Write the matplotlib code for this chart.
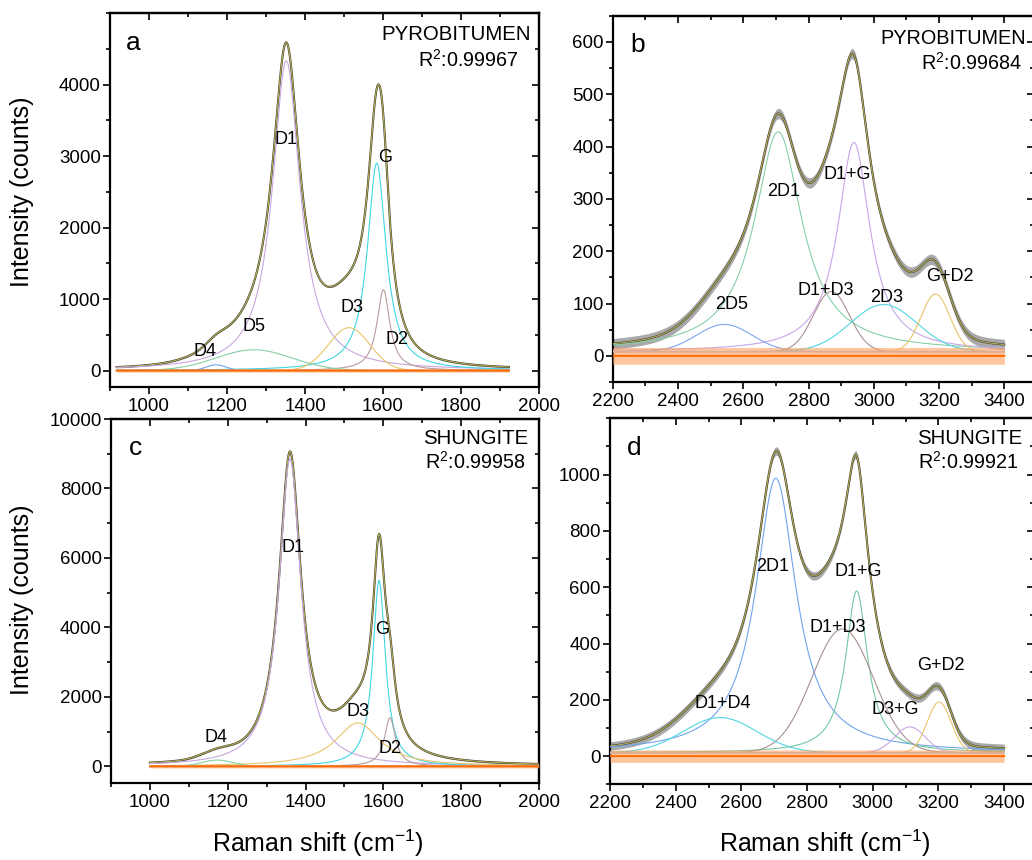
import numpy as np
import matplotlib
matplotlib.use('Agg')
import matplotlib.pyplot as plt
from matplotlib.ticker import MultipleLocator

plt.rcParams['font.family'] = ['Liberation Sans', 'DejaVu Sans']
plt.rcParams['mathtext.fontset'] = 'custom'
plt.rcParams['mathtext.rm'] = 'Liberation Sans'
plt.rcParams['mathtext.it'] = 'Liberation Sans'
plt.rcParams['mathtext.default'] = 'regular'

# ---------------- data ----------------
# Panel a: pyrobitumen, first order
a_span = [917, 1923]
a_names = ['D1', 'G', 'D2', 'D3', 'D4', 'D5']
a_center = [1352, 1584, 1601, 1513, 1172, 1269]
a_height = [4330, 2900, 1129, 600, 80, 290]
a_fwhm = [86, 58, 40, 125, 60, 230]
a_shape = ['L', 'L', 'L', 'G', 'G', 'G']
a_base = 0
a_noise = 12
a_resid = 22
a_r2 = '0.99967'

# Panel b: pyrobitumen, second order
b_span = [2200, 3400]
b_names = ['2D1', 'D1+G', '2D5', 'D1+D3', '2D3', 'G+D2']
b_center = [2707, 2939, 2542, 2870, 3030, 3189]
b_height = [420, 400, 52, 115, 90, 110]
b_fwhm = [178, 120, 200, 130, 240, 105]
b_shape = ['L', 'L', 'G', 'G', 'G', 'G']
b_base = 8
b_noise = 10
b_resid = 16
b_r2 = '0.99684'

# Panel c: shungite, first order
c_span = [1000, 2000]
c_names = ['D1', 'G', 'D2', 'D3', 'D4']
c_center = [1360, 1589, 1617, 1534, 1173]
c_height = [8850, 5350, 1397, 1250, 180]
c_fwhm = [68, 39, 34, 140, 94]
c_shape = ['L', 'L', 'L', 'L', 'G']
c_base = 0
c_noise = 25
c_resid = 45
c_r2 = '0.99958'

# Panel d: shungite, second order
d_span = [2200, 3400]
d_names = ['2D1', 'D1+G', 'D1+D3', 'D1+D4', 'D3+G', 'G+D2']
d_center = [2705, 2951, 2908, 2535, 3113, 3202]
d_height = [975, 575, 440, 125, 92, 180]
d_fwhm = [150, 81, 220, 264, 110, 86]
d_shape = ['L', 'L', 'G', 'G', 'G', 'G']
d_base = 12
d_noise = 15
d_resid = 22
d_r2 = '0.99921'

# label positions (data coordinates) for the peak names
a_lab_x = [1352, 1606, 1636, 1520, 1144, 1269]
a_lab_y = [3227, 2985, 429, 887, 266, 615]
b_lab_x = [2724, 2918, 2564, 2852, 3040, 3232]
b_lab_y = [315, 347, 99, 124, 111, 152]
c_lab_x = [1368, 1596, 1617, 1535, 1171]
c_lab_y = [6290, 3945, 511, 1587, 837]
d_lab_x = [2694, 2956, 2892, 2542, 3069, 3207]
d_lab_y = [672, 655, 458, 186, 165, 321]

# ---------------- styles ----------------
col_a = ['#c8a6e0', '#3fd8e2', '#b89a9a', '#e8c46a', '#6ea4ee', '#86cfa6']
col_b = ['#86cfa6', '#c8a6e8', '#7ea6ee', '#ab9090', '#4fd6e0', '#e8c46a']
col_c = ['#c8a6e0', '#3fd8e2', '#b89a9a', '#e8c46a', '#86cfa6']
col_d = ['#6ea4ee', '#74c9a0', '#a89090', '#4fd6e0', '#c8a6e8', '#e8c46a']

W, H = 1032, 860
fig = plt.figure(figsize=(W / 100, H / 100), dpi=100)


def ax_rect(l, t, r, b):
    return [l / W, 1 - b / H, (r - l) / W, (b - t) / H]


def peak(x, c, h, w, s):
    if s == 'L':
        return h / (1 + ((x - c) / (w / 2)) ** 2)
    return h * np.exp(-4 * np.log(2) * (x - c) ** 2 / w ** 2)


def draw_panel(ax, span, centers, heights, fwhms, shapes, base, noise, resid,
               colors, names, lx, ly):
    x = np.linspace(span[0], span[1], 1600)
    comps = [peak(x, c, h, w, s) for c, h, w, s in zip(centers, heights, fwhms, shapes)]
    total = base + np.sum(comps, axis=0)
    # measured spectrum (band shows its noise amplitude) and the fit
    ax.fill_between(x, total - noise, total + noise, color='#9a9a9a', lw=0, alpha=0.85, zorder=2)
    ax.plot(x, total, color='#3a3a3a', lw=1.5, zorder=3)
    ax.plot(x, total, color='#b4ae4e', lw=0.8, zorder=4)
    for comp, col in zip(comps, colors):
        ax.plot(x, base + comp, color=col, lw=0.8, zorder=5)
    ax.plot(x, np.full_like(x, base), color='#a8c4e8', lw=1.2, zorder=5)
    # residual (band shows its amplitude)
    ax.fill_between(x, -resid, resid, color='#ffa060', lw=0, alpha=0.6, zorder=6)
    ax.plot(x, np.zeros_like(x), color='#ff6a00', lw=1.4, zorder=7)
    for n, xx, yy in zip(names, lx, ly):
        ax.text(xx, yy, n, ha='center', va='center', fontsize=13, zorder=8)


def style(ax, xlim, ylim, xticks, xminor, yticks, yminor):
    ax.set_xlim(*xlim)
    ax.set_ylim(*ylim)
    ax.set_xticks(xticks)
    ax.set_yticks(yticks)
    ax.xaxis.set_minor_locator(MultipleLocator(xminor))
    ax.yaxis.set_minor_locator(MultipleLocator(yminor))
    ax.tick_params(which='both', direction='out', width=1.2, labelsize=13.5, colors='black')
    ax.tick_params(which='major', length=5)
    ax.tick_params(which='minor', length=3)
    ax.tick_params(axis='x', pad=3)
    ax.tick_params(axis='y', pad=1.5)
    for sp in ax.spines.values():
        sp.set_linewidth(1.6)
    sx = ax.secondary_xaxis('top')
    sx.set_xticks(xticks)
    sx.xaxis.set_minor_locator(MultipleLocator(xminor))
    sx.tick_params(which='both', direction='in', width=1.2, labeltop=False)
    sx.tick_params(which='major', length=5)
    sx.tick_params(which='minor', length=3)
    sx.spines['top'].set_linewidth(1.6)
    sy = ax.secondary_yaxis('right')
    sy.set_yticks(yticks)
    sy.yaxis.set_minor_locator(MultipleLocator(yminor))
    sy.tick_params(which='both', direction='in', width=1.2, labelright=False)
    sy.tick_params(which='major', length=5)
    sy.tick_params(which='minor', length=3)
    sy.spines['right'].set_linewidth(1.6)


axa = fig.add_axes(ax_rect(110, 13, 539, 387))
axb = fig.add_axes(ax_rect(612.7, 15.7, 1033.7, 382))
axc = fig.add_axes(ax_rect(111, 419, 539, 783))
axd = fig.add_axes(ax_rect(610, 418.3, 1033.7, 784.3))

draw_panel(axa, a_span, a_center, a_height, a_fwhm, a_shape, a_base, a_noise, a_resid,
           col_a, a_names, a_lab_x, a_lab_y)
draw_panel(axb, b_span, b_center, b_height, b_fwhm, b_shape, b_base, b_noise, b_resid,
           col_b, b_names, b_lab_x, b_lab_y)
draw_panel(axc, c_span, c_center, c_height, c_fwhm, c_shape, c_base, c_noise, c_resid,
           col_c, c_names, c_lab_x, c_lab_y)
draw_panel(axd, d_span, d_center, d_height, d_fwhm, d_shape, d_base, d_noise, d_resid,
           col_d, d_names, d_lab_x, d_lab_y)

style(axa, (900, 2000), (-230, 5000), [1000, 1200, 1400, 1600, 1800, 2000], 100,
      [0, 1000, 2000, 3000, 4000], 500)
style(axb, (2200, 3490), (-50, 650), [2200, 2400, 2600, 2800, 3000, 3200, 3400], 100,
      [0, 100, 200, 300, 400, 500, 600], 50)
style(axc, (900, 2000), (-480, 10000), [1000, 1200, 1400, 1600, 1800, 2000], 100,
      [0, 2000, 4000, 6000, 8000, 10000], 1000)
style(axd, (2200, 3490), (-100, 1200), [2200, 2400, 2600, 2800, 3000, 3200, 3400], 100,
      [0, 200, 400, 600, 800, 1000], 100)


def ftext(px, py, s, **kw):
    fig.text(px / W, 1 - py / H, s, **kw)


ftext(133, 43, 'a', fontsize=19, ha='center', va='center')
ftext(638, 45, 'b', fontsize=19, ha='center', va='center')
ftext(136, 448, 'c', fontsize=19, ha='center', va='center')
ftext(634, 448, 'd', fontsize=19, ha='center', va='center')

ftext(381, 34, 'PYROBITUMEN', fontsize=14.7, ha='left', va='center')
ftext(418, 60, 'R$^{2}$:' + a_r2, fontsize=14.2, ha='left', va='center')
ftext(1026, 38, 'PYROBITUMEN', fontsize=14.3, ha='right', va='center')
ftext(921, 63, 'R$^{2}$:' + b_r2, fontsize=14.2, ha='left', va='center')
ftext(423, 438, 'SHUNGITE', fontsize=14.7, ha='left', va='center')
ftext(425, 462, 'R$^{2}$:' + c_r2, fontsize=14.2, ha='left', va='center')
ftext(917, 438, 'SHUNGITE', fontsize=14.7, ha='left', va='center')
ftext(918, 462, 'R$^{2}$:' + d_r2, fontsize=14.2, ha='left', va='center')

ftext(22, 192, 'Intensity (counts)', fontsize=18, rotation=90, ha='center', va='center')
ftext(22, 600, 'Intensity (counts)', fontsize=18, rotation=90, ha='center', va='center')
ftext(318, 843, 'Raman shift (cm$^{-1}$)', fontsize=18, ha='center', va='center')
ftext(825, 843, 'Raman shift (cm$^{-1}$)', fontsize=18, ha='center', va='center')

fig.savefig('out.png', dpi=100)
